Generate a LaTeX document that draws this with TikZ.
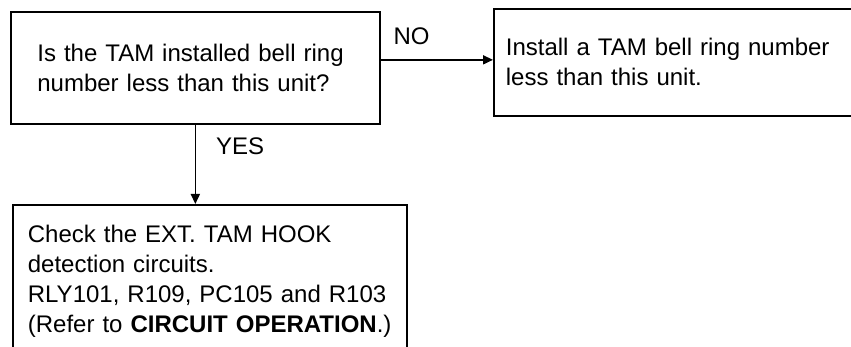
\documentclass[tikz,border=0pt]{standalone}
\usepackage{fontspec}
\setmainfont{Liberation Sans}
\usetikzlibrary{positioning,arrows.meta}

\begin{document}
\begin{tikzpicture}[
    x=1pt, y=1pt,
    line width=1.7pt,
    flowbox/.style={rectangle, draw=black, anchor=north west, align=left, inner ysep=0pt, font=\fontsize{24pt}{30pt}\selectfont},
    answer/.style={font=\fontsize{24pt}{30pt}\selectfont, inner sep=0pt}
]
  \useasboundingbox (0,0) rectangle (851,-347);
  \clip (0,0) rectangle (851,-347);

  \node[flowbox, text width=316pt, inner xsep=26.5pt, minimum height=111.5pt] (ask) at (10,-11.5)
    {Is the TAM installed bell ring\\number less than this unit?};
  \node[flowbox, text width=400pt, inner xsep=12pt, minimum height=107pt] (install) at (493,-8)
    {Install a TAM bell ring number\\less than this unit.};
  \node[flowbox, text width=364pt, inner xsep=15pt, minimum height=152pt] (check) at (12,-204)
    {Check the EXT. TAM HOOK\\detection circuits.\\RLY101, R109, PC105 and R103\\(Refer to \textbf{CIRCUIT OPERATION}.)};

  \draw[->, >={Triangle[length=10pt, width=9pt]}] ([yshift=2.5pt]ask.east |- install.west)
    -- node[answer, pos=0, anchor=south west, xshift=12pt, yshift=14pt] {NO} ([yshift=2.5pt]install.west);
  \draw[->, >={Triangle[length=10pt, width=9pt]}] (ask.south)
    -- node[answer, pos=0, anchor=north west, xshift=20pt, yshift=-12pt] {YES} (ask.south |- check.north);
\end{tikzpicture}
\end{document}
